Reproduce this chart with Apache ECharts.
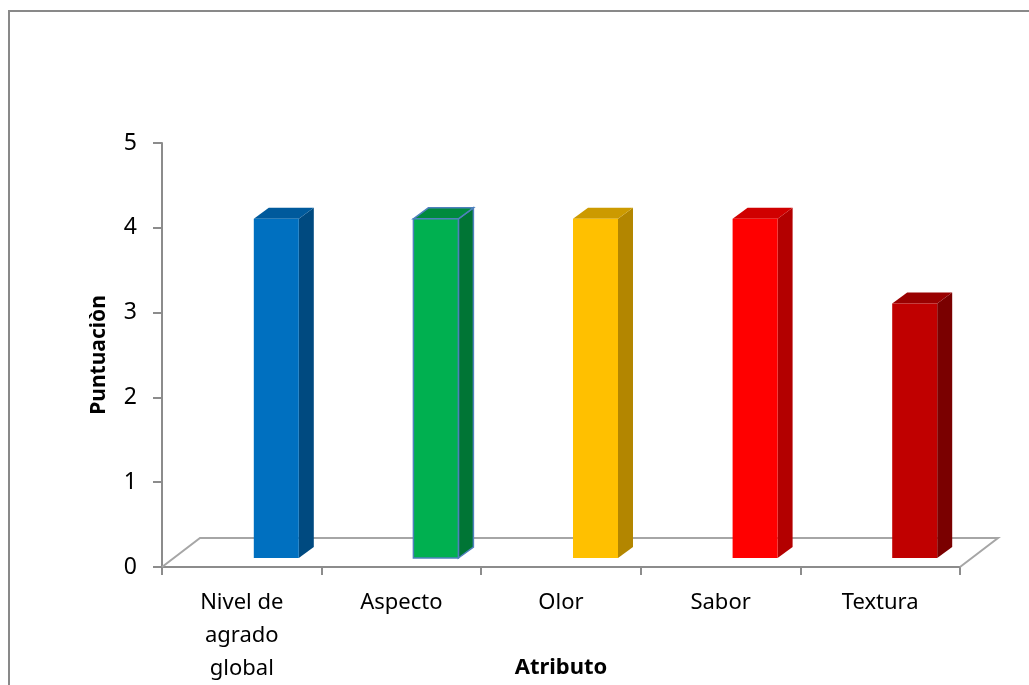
<!DOCTYPE html>
<html>
<head>
<meta charset="utf-8">
<script src="https://cdn.jsdelivr.net/npm/echarts@6/dist/echarts.min.js"></script>
<style>
  html, body { margin: 0; padding: 0; background: #fff; }
  #chart { width: 1029px; height: 685px; }
</style>
</head>
<body>
<div id="chart"></div>
<script>
// datos
const categories = ['Nivel de\nagrado\nglobal', 'Aspecto', 'Olor', 'Sabor', 'Textura'];
const scores = [4, 4, 4, 4, 3];
const yTicks = [0, 1, 2, 3, 4, 5];

// colores: frente, lado, tapa
const frontColors = ['#0070C0', '#00B050', '#FFC000', '#FF0000', '#C00000'];
const sideColors = ['#004A80', '#007535', '#B38600', '#B30000', '#7A0000'];
const topColors = ['#005A9C', '#008A3E', '#CC9A00', '#D00000', '#990000'];

// geometría 3D (px)
const BAR_SHIFT = 34.5;  // desplazamiento del centro de la barra respecto a la categoría
const BAR_W = 45;
const BASE_DY = -9;
const DEPTH_DX = 15, DEPTH_DY = -11;
const FLOOR_DX = 38, FLOOR_DY = -29;

const chart = echarts.init(document.getElementById('chart'));

const renderBar = (params, api) => {
    const i = api.value(0);
    const v = api.value(1);
    const base = api.coord([i, 0]);
    const top = api.coord([i, v]);
    const x0 = base[0] + BAR_SHIFT - BAR_W / 2;
    const x1 = x0 + BAR_W;
    const y0 = base[1] + BASE_DY;
    const y1 = top[1] + BASE_DY;
    const border = i === 1 ? '#4F81BD' : null;
    return {
        type: 'group',
        children: [
            {
                type: 'polygon',
                shape: { points: [[x1, y0], [x1 + DEPTH_DX, y0 + DEPTH_DY], [x1 + DEPTH_DX, y1 + DEPTH_DY], [x1, y1]] },
                style: { fill: sideColors[i], stroke: border, lineWidth: border ? 1.5 : 0 }
            },
            {
                type: 'polygon',
                shape: { points: [[x0, y1], [x0 + DEPTH_DX, y1 + DEPTH_DY], [x1 + DEPTH_DX, y1 + DEPTH_DY], [x1, y1]] },
                style: { fill: topColors[i], stroke: border, lineWidth: border ? 1.5 : 0 }
            },
            {
                type: 'rect',
                shape: { x: x0, y: y1, width: BAR_W, height: y0 - y1 },
                style: { fill: frontColors[i], stroke: border, lineWidth: border ? 1.5 : 0 }
            }
        ]
    };
};

const renderFloor = (params) => {
    const cs = params.coordSys;
    const yF = cs.y + cs.height;
    const xL = cs.x, xR = cs.x + cs.width;
    return {
        type: 'polyline',
        shape: { points: [[xL, yF], [xL + FLOOR_DX, yF + FLOOR_DY], [xR + FLOOR_DX, yF + FLOOR_DY], [xR, yF]] },
        style: { fill: null, stroke: '#A6A6A6', lineWidth: 2 }
    };
};

const option = {
    animation: false,
    textStyle: { fontFamily: 'Noto Sans' },
    graphic: [{
        type: 'rect',
        shape: { x: 9, y: 11, width: 1100, height: 1000 },
        style: { fill: null, stroke: '#898989', lineWidth: 2 },
        silent: true
    }],
    grid: { left: 162, top: 143, width: 798, height: 424, containLabel: false, outerBoundsMode: 'none' },
    xAxis: {
        type: 'category',
        data: categories,
        boundaryGap: true,
        name: 'Atributo',
        nameLocation: 'middle',
        nameGap: 90,
        nameMoveOverlap: false,
        nameTextStyle: { color: '#000', fontSize: 22, fontWeight: 'bold', fontFamily: 'Noto Sans' },
        axisLine: { show: true, lineStyle: { color: '#8C8C8C', width: 2 } },
        axisTick: { show: true, length: 8, lineStyle: { color: '#8C8C8C', width: 2 } },
        axisLabel: { color: '#000', fontSize: 22, lineHeight: 33, margin: 19, interval: 0, fontFamily: 'Noto Sans' },
        splitLine: { show: false }
    },
    yAxis: {
        type: 'value',
        min: yTicks[0],
        max: yTicks[yTicks.length - 1],
        interval: 1,
        name: 'Puntuaciòn',
        nameLocation: 'middle',
        nameGap: 52,
        nameMoveOverlap: false,
        nameTextStyle: { color: '#000', fontSize: 21, fontWeight: 'bold', fontFamily: 'Noto Sans' },
        axisLine: { show: true, lineStyle: { color: '#8C8C8C', width: 2 } },
        axisTick: { show: true, length: 9, lineStyle: { color: '#8C8C8C', width: 2 } },
        axisLabel: { color: '#000', fontSize: 23, margin: 25, fontFamily: 'Noto Sans' },
        splitLine: { show: false }
    },
    series: [
        {
            type: 'custom',
            renderItem: renderFloor,
            data: [[0, 0]],
            z: 1,
            silent: true
        },
        {
            type: 'custom',
            renderItem: renderBar,
            data: scores.map((s, i) => [i, s]),
            encode: { x: 0, y: 1 },
            z: 3
        }
    ]
};

chart.setOption(option);
</script>
</body>
</html>
